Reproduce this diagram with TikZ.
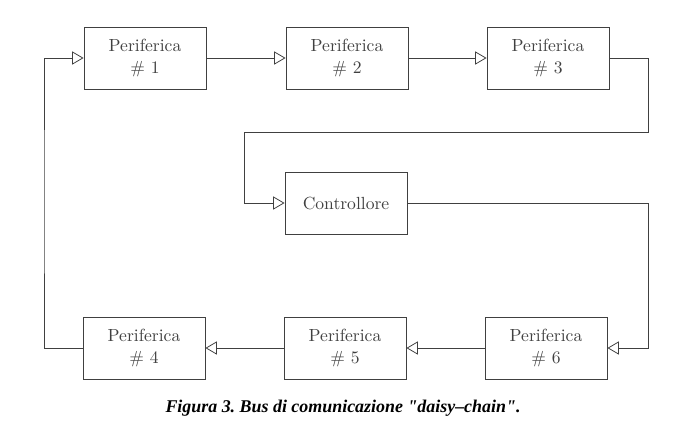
\documentclass[tikz,border=0pt]{standalone}
\usepackage{fontspec}
\newfontfamily\didafont{Liberation Serif}
\usetikzlibrary{arrows.meta}
\begin{document}
\begin{tikzpicture}[x=0.02cm, y=-0.02cm,
  periferica/.style={draw=black!75, line width=0.5pt, text=black!75,
    minimum width=2.44cm, minimum height=1.24cm, align=center, inner sep=0pt},
  bus/.style={draw=black!75, line width=0.45pt,
    -{Triangle[open, length=6.5pt, width=7.5pt]}}]
  \useasboundingbox (0,0) rectangle (679,433);
  % riga superiore
  \node[periferica] (p1) at (145,58) {Periferica\\\# 1};
  \node[periferica] (p2) at (347,58) {Periferica\\\# 2};
  \node[periferica] (p3) at (548,58) {Periferica\\\# 3};
  % controllore al centro
  \node[periferica] (ctrl) at (346,203) {Controllore};
  % riga inferiore
  \node[periferica] (p4) at (144,348) {Periferica\\\# 4};
  \node[periferica] (p5) at (345,348) {Periferica\\\# 5};
  \node[periferica] (p6) at (546,348) {Periferica\\\# 6};

  % punti di svolta del bus
  \coordinate (r1) at (648,132);
  \coordinate (l1) at (244,132);
  \coordinate (r2) at (648,300);
  \coordinate (l2) at (44,200);

  % catena: 1 -> 2 -> 3 -> controllore -> 6 -> 5 -> 4 -> 1
  \draw[bus] (p1.east) -- (p2.west);
  \draw[bus] (p2.east) -- (p3.west);
  \draw[bus] (p3.east) -| (r1) -- (l1) |- (ctrl.west);
  \draw[bus] (ctrl.east) -| (r2) |- (p6.east);
  \draw[bus] (p6.west) -- (p5.east);
  \draw[bus] (p5.west) -- (p4.east);
  \draw[bus] (p4.west) -| (l2) |- (p1.west);

  % didascalia
  \node (didascalia) at (343,408) {\didafont\fontsize{10.2}{12}\selectfont\bfseries\itshape\frenchspacing
    Figura 3. Bus di comunicazione \textquotedbl daisy\textendash chain\textquotedbl.};
\end{tikzpicture}
\end{document}
